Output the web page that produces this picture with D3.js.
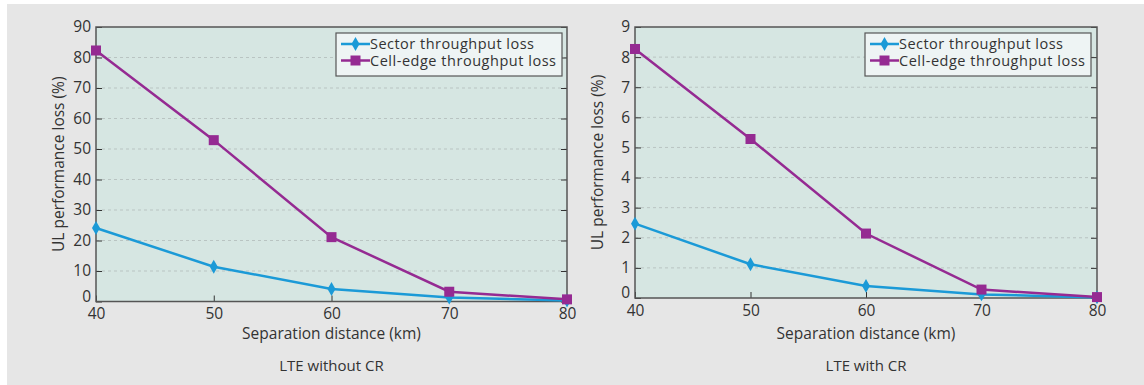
<!DOCTYPE html>
<html><head><meta charset="utf-8">
<script src="https://cdn.jsdelivr.net/npm/d3@7"></script>
<style>
html,body{margin:0;padding:0;background:#fff;}
text{font-family:"Open Sans","Noto Sans",sans-serif;fill:#333;}
</style></head>
<body>
<svg id="c" width="1144" height="385"></svg>
<script>
const distances = [40, 50, 60, 70, 80];
const seriesNames = ["Sector throughput loss", "Cell-edge throughput loss"];
const sectorNoCR = [24.1, 11.4, 4.1, 1.3, 0.3];
const cellEdgeNoCR = [82.3, 52.9, 21.1, 3.2, 0.7];
const sectorCR = [2.47, 1.12, 0.4, 0.12, 0.02];
const cellEdgeCR = [8.27, 5.28, 2.14, 0.28, 0.03];
const yTicksNoCR = [0,10,20,30,40,50,60,70,80,90];
const yTicksCR = [0,1,2,3,4,5,6,7,8,9];
const xTicks = [40,50,60,70,80];
const titles = ["LTE without CR", "LTE with CR"];
const xLabel = "Separation distance (km)";
const yLabel = "UL performance loss (%)";

const blue = "#1b9ad7", purple = "#952a92";
const svg = d3.select("#c");
svg.append("rect").attr("x",7).attr("y",4).attr("width",1137).attr("height",381).attr("fill","#e6e6e6");

function panel(cfg){
  const {x0,x1,y0,y1,ymax,yTicks,sector,cell,title,legX} = cfg;
  const x = d3.scaleLinear().domain([40,80]).range([x0,x1]);
  const y = d3.scaleLinear().domain([0,ymax]).range([y1,y0]);
  const g = svg.append("g");
  g.append("rect").attr("x",x0).attr("y",y0).attr("width",x1-x0).attr("height",y1-y0).attr("fill","#d6e6e2");
  g.selectAll(".grid").data(yTicks.slice(1,-1)).enter().append("line")
    .attr("x1",x0).attr("x2",x1).attr("y1",d=>y(d)).attr("y2",d=>y(d))
    .attr("stroke","#b9c4c2").attr("stroke-dasharray","3,3").attr("stroke-width",1);
  const ax = g.append("g").attr("transform",`translate(0,${y1})`)
    .call(d3.axisBottom(x).tickValues(xTicks).tickSize(-6).tickPadding(3).tickFormat(d3.format("d")));
  const ay = g.append("g").attr("transform",`translate(${x0},0)`)
    .call(d3.axisLeft(y).tickValues(yTicks).tickSize(-6).tickPadding(5).tickFormat(d3.format("d")));
  const ayr = g.append("g").attr("transform",`translate(${x1},0)`)
    .call(d3.axisRight(y).tickValues(yTicks).tickSize(-6).tickFormat(""));
  [ax,ay,ayr].forEach(a=>{
    a.select(".domain").remove();
    a.selectAll(".tick line").attr("stroke","#333");
    a.selectAll("text").attr("font-size",15.5).style("fill","#333");
  });
  ax.selectAll("text").attr("dy","0.95em");
  ay.selectAll(".tick").filter(d=>d===0).select("text").attr("y",-5);
  g.append("rect").attr("x",x0).attr("y",y0).attr("width",x1-x0).attr("height",y1-y0)
    .attr("fill","none").attr("stroke","#555").attr("stroke-width",1.5);
  const line = d3.line().x((d,i)=>x(distances[i])).y(d=>y(d));
  g.append("path").datum(sector).attr("d",line).attr("fill","none").attr("stroke",blue).attr("stroke-width",2.5);
  g.append("path").datum(cell).attr("d",line).attr("fill","none").attr("stroke",purple).attr("stroke-width",2.5);
  const dia = d3.symbol().type(d3.symbolDiamond).size(55);
  g.selectAll(".ds").data(sector).enter().append("path").attr("d",dia)
    .attr("transform",(d,i)=>`translate(${x(distances[i])},${y(d)})`).attr("fill",blue);
  g.selectAll(".cs").data(cell).enter().append("rect")
    .attr("x",(d,i)=>x(distances[i])-5).attr("y",d=>y(d)-5).attr("width",10).attr("height",10).attr("fill",purple);
  const lg = g.append("g").attr("transform",`translate(${legX},${y0+6})`);
  lg.append("rect").attr("width",226).attr("height",43).attr("fill","#eef4f4").attr("stroke","#555").attr("stroke-width",1.2);
  [[blue,"d"],[purple,"s"]].forEach((c,i)=>{
    const yy = 11 + i*16.5;
    lg.append("line").attr("x1",5).attr("x2",34).attr("y1",yy).attr("y2",yy).attr("stroke",c[0]).attr("stroke-width",2.5);
    if(c[1]==="d") lg.append("path").attr("d",dia).attr("transform",`translate(19.5,${yy})`).attr("fill",c[0]);
    else lg.append("rect").attr("x",14.5).attr("y",yy-5).attr("width",10).attr("height",10).attr("fill",c[0]);
    lg.append("text").attr("x",34).attr("y",yy).attr("dy","0.35em").attr("font-size",14.5).attr("textLength",i===0?164:186).text(seriesNames[i]);
  });
  const cx = (x0+x1)/2;
  g.append("text").attr("x",cx).attr("y",334).attr("dy","0.35em").attr("text-anchor","middle").attr("font-size",15.5).text(xLabel);
  g.append("text").attr("x",cx).attr("y",366).attr("dy","0.35em").attr("text-anchor","middle").attr("font-size",15).text(title);
  g.append("text").attr("transform",`translate(${x0-37},${(y0+y1)/2}) rotate(-90)`).attr("dy","0.35em")
    .attr("text-anchor","middle").attr("font-size",15.5).text(yLabel);
}
panel({x0:96,x1:567,y0:27,y1:301.5,ymax:90,yTicks:yTicksNoCR,sector:sectorNoCR,cell:cellEdgeNoCR,title:titles[0],legX:336});
panel({x0:635,x1:1097,y0:27,y1:298,ymax:9,yTicks:yTicksCR,sector:sectorCR,cell:cellEdgeCR,title:titles[1],legX:865});
</script>
</body></html>
